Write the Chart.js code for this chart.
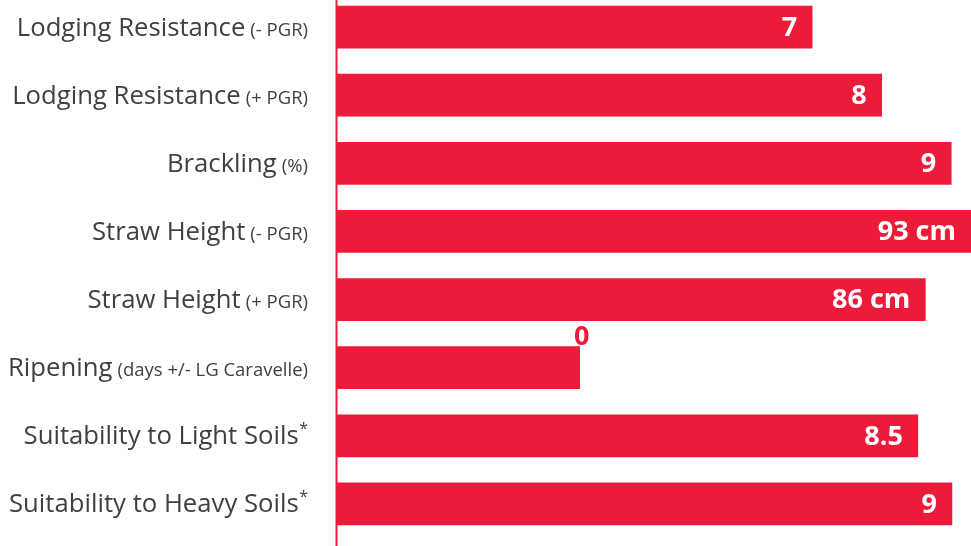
<!DOCTYPE html>
<html>
<head>
<meta charset="utf-8">
<script src="https://cdn.jsdelivr.net/npm/chart.js@4.4.1/dist/chart.umd.min.js"></script>
<style>
  html, body { margin: 0; padding: 0; background: #ffffff; overflow: hidden; }
  #wrap { position: relative; width: 971px; height: 546px; overflow: hidden; }
  #c { position: absolute; left: 0; top: -7px; }
</style>
</head>
<body>
<div id="wrap"><canvas id="c" width="971" height="553"></canvas></div>
<script>
// ---- data ----
const categories = [
  'Lodging Resistance', 'Lodging Resistance', 'Brackling', 'Straw Height',
  'Straw Height', 'Ripening', 'Suitability to Light Soils', 'Suitability to Heavy Soils'
];
const qualifiers = ['(- PGR)', '(+ PGR)', '(%)', '(- PGR)', '(+ PGR)', '(days +/- LG Caravelle)', '', ''];
const footnoteMarks = ['', '', '', '', '', '', '*', '*'];
// bar lengths on the chart's common display scale (0 - 9.3)
const barLengths = [6.97, 7.99, 9.01, 9.3, 8.63, 3.56, 8.52, 9.02];
const valueLabels = ['7', '8', '9', '93 cm', '86 cm', '0', '8.5', '9'];
const labelOutside = [false, false, false, false, false, true, false, false];

const RED = 'rgb(237,27,58)';
const TEXT = '#404040';
const FONT = '"Open Sans", "DejaVu Sans", sans-serif';

const labelPlugin = {
  id: 'customLabels',
  afterDraw(chart) {
    const ctx = chart.ctx;
    const meta = chart.getDatasetMeta(0);
    const area = chart.chartArea;
    ctx.save();
    // vertical axis line, full height
    ctx.strokeStyle = RED;
    ctx.lineWidth = 2;
    ctx.beginPath();
    ctx.moveTo(area.left - 0.5, 0);
    ctx.lineTo(area.left - 0.5, chart.height);
    ctx.stroke();

    const rightX = 308;
    meta.data.forEach((bar, i) => {
      const y = bar.y;
      // category labels (drawn right to left)
      ctx.textBaseline = 'alphabetic';
      ctx.fillStyle = TEXT;
      let x = rightX;
      const base = y + 8.5;
      if (footnoteMarks[i]) {
        ctx.font = '16px ' + FONT;
        ctx.textAlign = 'right';
        ctx.fillText(footnoteMarks[i], x, base - 10);
        x -= ctx.measureText(footnoteMarks[i]).width + 0.5;
      }
      if (qualifiers[i]) {
        ctx.font = '18.5px ' + FONT;
        ctx.textAlign = 'right';
        ctx.fillText(qualifiers[i], x, base);
        x -= ctx.measureText(qualifiers[i]).width + 5;
      }
      ctx.font = '25.7px ' + FONT;
      ctx.textAlign = 'right';
      ctx.fillText(categories[i], x, base);

      // value labels
      ctx.font = 'bold 27px ' + FONT;
      ctx.textBaseline = 'middle';
      if (labelOutside[i]) {
        ctx.fillStyle = RED;
        ctx.textAlign = 'center';
        ctx.fillText(valueLabels[i], bar.x + 2, y - 30);
      } else {
        ctx.fillStyle = '#ffffff';
        ctx.textAlign = 'right';
        ctx.fillText(valueLabels[i], bar.x - 15, y + 1);
      }
    });
    ctx.restore();
  }
};

new Chart(document.getElementById('c'), {
  type: 'bar',
  data: {
    labels: categories,
    datasets: [{
      data: barLengths,
      backgroundColor: RED,
      borderWidth: 0,
      barThickness: 42
    }]
  },
  options: {
    indexAxis: 'y',
    responsive: false,
    animation: false,
    devicePixelRatio: 1,
    layout: { padding: { left: 337, right: 0, top: 0, bottom: 8 } },
    plugins: { legend: { display: false }, tooltip: { enabled: false } },
    scales: {
      x: { display: false, min: 0, max: 9.3 },
      y: { display: false, offset: true }
    }
  },
  plugins: [labelPlugin]
});
</script>
</body>
</html>
